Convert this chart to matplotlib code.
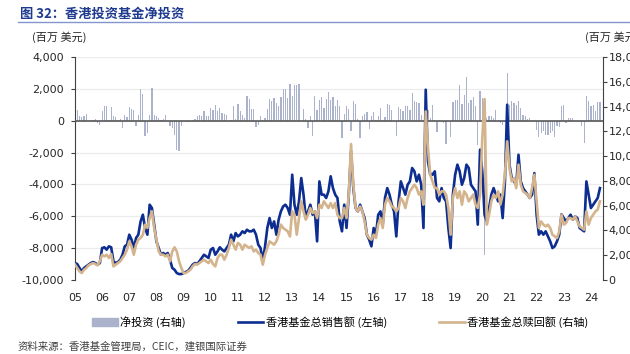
import numpy as np
import matplotlib.pyplot as plt
from matplotlib.lines import Line2D
from matplotlib.patches import Patch
from matplotlib.ticker import FuncFormatter

plt.rcParams['font.family'] = ['DejaVu Sans', 'Noto Sans CJK SC']
plt.rcParams['axes.unicode_minus'] = False
cjk = ['Noto Sans CJK SC', 'DejaVu Sans']

# monthly data, Jan 2005 - May 2024 (USD mn)
years = ['05', '06', '07', '08', '09', '10', '11', '12', '13', '14',
         '15', '16', '17', '18', '19', '20', '21', '22', '23', '24']

net_inv = [
    170, 690, 270, 210, 270, 420, -40, 20, 60, 100,
    -150, -290, 590, 900, 900, 60, 860, 270, 230, 60,
    100, -460, 330, 250, 860, 730, 690, -360, 380, 2000,
    1690, -980, -770, 380, 2050, 380, 270, 170, 40, 100,
    380, -40, -360, -460, -880, -1820, -1920, -360, -40, 0,
    -80, -40, 40, 80, 310, 380, 310, 590, 270, 270,
    790, 690, 960, 630, 800, 460, 420, 380, -40, 40,
    900, 100, 1050, 630, 380, 170, 1550, 1360, 750, 750,
    -420, -250, 290, 60, 170, 750, 1360, 1250, 1420, 1100,
    900, 1520, 2000, 1960, 1420, 2300, 1550, 2250, 2250, 2300,
    -40, 750, 100, -460, 270, -980, 1570, 690, 1320, 1480,
    790, 1360, 1800, 1320, 1480, 900, 1320, 900, -1090, 420,
    900, 730, -670, 1210, 1050, 100, -1090, 270, 420, 540,
    -500, 270, 540, 60, 270, 790, 60, 210, 1050, 960,
    690, -40, -980, 840, 750, 630, 900, 900, 690, 1740,
    1210, 1150, 1100, 380, -40, 1950, 690, 170, 960, 60,
    -710, 60, -40, -150, -1450, -40, -1000, 1170, 1280, 1320,
    2240, 1070, 1600, 2720, 1100, 1300, 1500, 900, -1500, 1850,
    1400, -8400, 170, 310, 300, 170, 700, 50, -150, -250,
    -100, 2990, 1000, 1210, 1100, 960, 1210, 790, 380, 270,
    100, 170, 0, 60, -560, -1050, -770, -670, -880, -880,
    -770, -630, -1050, -360, -420, 900, 1000, -150, 170, 170,
    170, 0, 0, -40, -360, -1400, 1530, 1210, 900, 1000,
    600, 1200, 1200,
]

sales = [
    1370, 1290, 970, 700, 970, 1100, 1240, 1370, 1450, 1370,
    1240, 1370, 2580, 2640, 2450, 2720, 2640, 1510, 1370, 1450,
    1640, 2040, 2720, 2850, 3660, 3260, 2580, 3390, 3660, 4730,
    5270, 4200, 3660, 6080, 5810, 4470, 3120, 2580, 2040, 2180,
    2040, 2180, 1640, 970, 830, 560, 480, 480, 560, 650,
    750, 970, 1240, 1370, 1290, 1510, 1780, 2040, 1910, 1780,
    2450, 2580, 2040, 2310, 2640, 2450, 2310, 2580, 2850, 3660,
    3120, 3790, 3520, 3660, 3930, 3790, 4060, 3930, 3930, 4060,
    3660, 2850, 2580, 1510, 2720, 4200, 5000, 4200, 4730, 3660,
    4870, 5540, 5940, 6080, 5810, 5270, 8500, 6080, 5270, 6350,
    8230, 6890, 5000, 5540, 6080, 5270, 5540, 3120, 7960, 6890,
    6890, 6620, 7160, 8370, 7420, 6890, 6620, 4730, 3930, 6080,
    4200, 6890, 10380, 7420, 5810, 5540, 6080, 5540, 5000, 3660,
    3260, 2720, 4200, 3660, 5270, 5540, 4470, 6620, 7420, 6890,
    6080, 5540, 3520, 6350, 7960, 7420, 6890, 7690, 7960, 9040,
    8770, 7960, 8500, 7690, 4200, 15360, 9580, 8500, 8500, 8770,
    6620, 6350, 7420, 6620, 6350, 4200, 2580, 6890, 8500, 9310,
    8770, 7690, 8230, 9310, 9040, 7690, 7420, 7160, 4470, 10520,
    8770, 5270, 4730, 5810, 6890, 7420, 6890, 6350, 6890, 5000,
    7960, 14150, 9310, 8230, 7960, 7690, 10110, 7960, 7420, 7160,
    6890, 6620, 6890, 8630, 5270, 3660, 3930, 3660, 3930, 3520,
    3120, 2580, 2720, 3120, 3660, 5300, 5000, 4730, 5000, 5270,
    4870, 5140, 5000, 4200, 4060, 3930, 7960, 6890, 5810, 6080,
    6350, 6620, 7420,
]

redemptions = [
    1240, 970, 700, 560, 830, 970, 1180, 1290, 1370, 1290,
    1180, 1510, 2040, 1910, 2040, 1780, 2100, 1100, 1240, 1370,
    1510, 1780, 2040, 2450, 3120, 2720, 2040, 2850, 3260, 3390,
    3660, 4470, 4200, 5000, 5540, 4200, 3260, 2310, 2040, 2040,
    1910, 2040, 1510, 2310, 2640, 2310, 1510, 970, 560, 560,
    700, 830, 1100, 1290, 1240, 1370, 1510, 1640, 1510, 1370,
    1640, 1290, 1100, 1780, 2040, 2040, 1640, 2040, 2580, 3260,
    2850, 2450, 2990, 2850, 2450, 2850, 2720, 2580, 2720, 2310,
    2450, 2180, 2040, 1240, 2040, 2580, 3120, 2990, 2850, 3120,
    3660, 4470, 4200, 4060, 3930, 3520, 5540, 5270, 3660, 5000,
    6350, 5540, 4870, 5270, 5810, 5410, 5540, 5000, 6080, 5810,
    6350, 6080, 5810, 6210, 5810, 6210, 5270, 5000, 5000, 5810,
    5000, 6890, 10970, 7690, 5810, 5540, 5940, 5540, 4730, 3660,
    3390, 3260, 3660, 3390, 4470, 5000, 4200, 6080, 6620, 6350,
    5940, 5810, 5540, 5810, 6620, 6350, 5810, 6620, 7160, 7420,
    7690, 7420, 6890, 7160, 6080, 13610, 10650, 8500, 7960, 7420,
    7420, 6890, 7160, 7160, 6890, 5810, 3660, 6620, 7420, 6620,
    7160, 6080, 7160, 6890, 6350, 6620, 6890, 6080, 5810, 6890,
    11460, 14600, 4470, 5270, 6350, 6890, 6620, 7160, 6080, 6890,
    8500, 11190, 9040, 7960, 8230, 7420, 9310, 7690, 7160, 7020,
    6890, 6620, 7420, 8500, 6350, 4200, 4730, 4470, 4330, 4470,
    4200, 3660, 3520, 3390, 3930, 5270, 4470, 4600, 5000, 5000,
    4870, 5140, 4730, 4330, 4200, 4060, 5540, 4470, 5000, 5270,
    5540, 5680, 6350,
]

months = np.arange(len(net_inv))
fmt = FuncFormatter(lambda v, p: '{:,.0f}'.format(v))

fig = plt.figure(figsize=(6.3, 3.54), dpi=100)
ax = fig.add_axes([0.119, 0.209, 0.838, 0.630])
ax2 = ax.twinx()

ax.bar(months, net_inv, width=0.55, color='#aab2cc', zorder=2)
ax.axhline(0, color='#595959', lw=1.2, zorder=3)
ax2.plot(months, sales, color='#0d2d91', lw=1.9)
ax2.plot(months, redemptions, color='#d3b48d', lw=1.9)

ax.set_xlim(0, 233.3)
ax.set_ylim(-10000, 4000)
ax.set_yticks(np.arange(-10000, 4001, 2000))
ax.yaxis.set_major_formatter(fmt)
ax.yaxis.grid(True, color='#ebebeb', lw=0.8)
ax.set_axisbelow(True)
ax.set_xticks(np.arange(0, 12 * len(years), 12))
ax.set_xticklabels(years)

ax2.set_ylim(0, 18000)
ax2.set_yticks(np.arange(0, 18001, 2000))
ax2.yaxis.set_major_formatter(fmt)

for s in ['top', 'bottom', 'right']:
    ax.spines[s].set_visible(False)
for s in ['top', 'bottom', 'left']:
    ax2.spines[s].set_visible(False)
ax.spines['left'].set_color('#404040')
ax2.spines['right'].set_color('#404040')

ax.tick_params(axis='x', length=0, pad=9, labelsize=8, labelcolor='#262626')
ax.tick_params(axis='y', length=3, pad=5, labelsize=8, labelcolor='#262626', color='#404040')
ax2.tick_params(axis='y', length=3, pad=1, labelsize=8, labelcolor='#262626', color='#404040')

fig.text(20 / 630, 1 - 14 / 354, '图 32：香港投资基金净投资', fontsize=9.5,
         weight='bold', color='#1f3b8f', va='center', family=cjk)
fig.add_artist(Line2D([18 / 630, 1], [1 - 22 / 354] * 2, color='#8494cf', lw=1))
fig.text(32 / 630, 1 - 37 / 354, '(百万 美元)', fontsize=8, va='center',
         color='#262626', family=cjk)
fig.text(585 / 630, 1 - 37 / 354, '(百万 美元)', fontsize=8, va='center',
         color='#262626', family=cjk)

handles = [Patch(color='#aab2cc'),
           Line2D([], [], color='#0d2d91', lw=1.9),
           Line2D([], [], color='#d3b48d', lw=1.9)]
labels = ['净投资 (右轴)', '香港基金总销售额 (左轴)', '香港基金总赎回额 (右轴)']
fig.legend(handles, labels, loc='center', bbox_to_anchor=(0.54, 1 - 322 / 354),
           ncol=3, frameon=False, handlelength=2.3, handletextpad=0.2,
           columnspacing=4.7, prop={'family': cjk, 'size': 8})

fig.text(18 / 630, 1 - 347 / 354, '资料来源：香港基金管理局，CEIC，建银国际证券',
         fontsize=7.5, style='italic', color='#404040', va='center', family=cjk)

fig.savefig('out.png', dpi=100)
